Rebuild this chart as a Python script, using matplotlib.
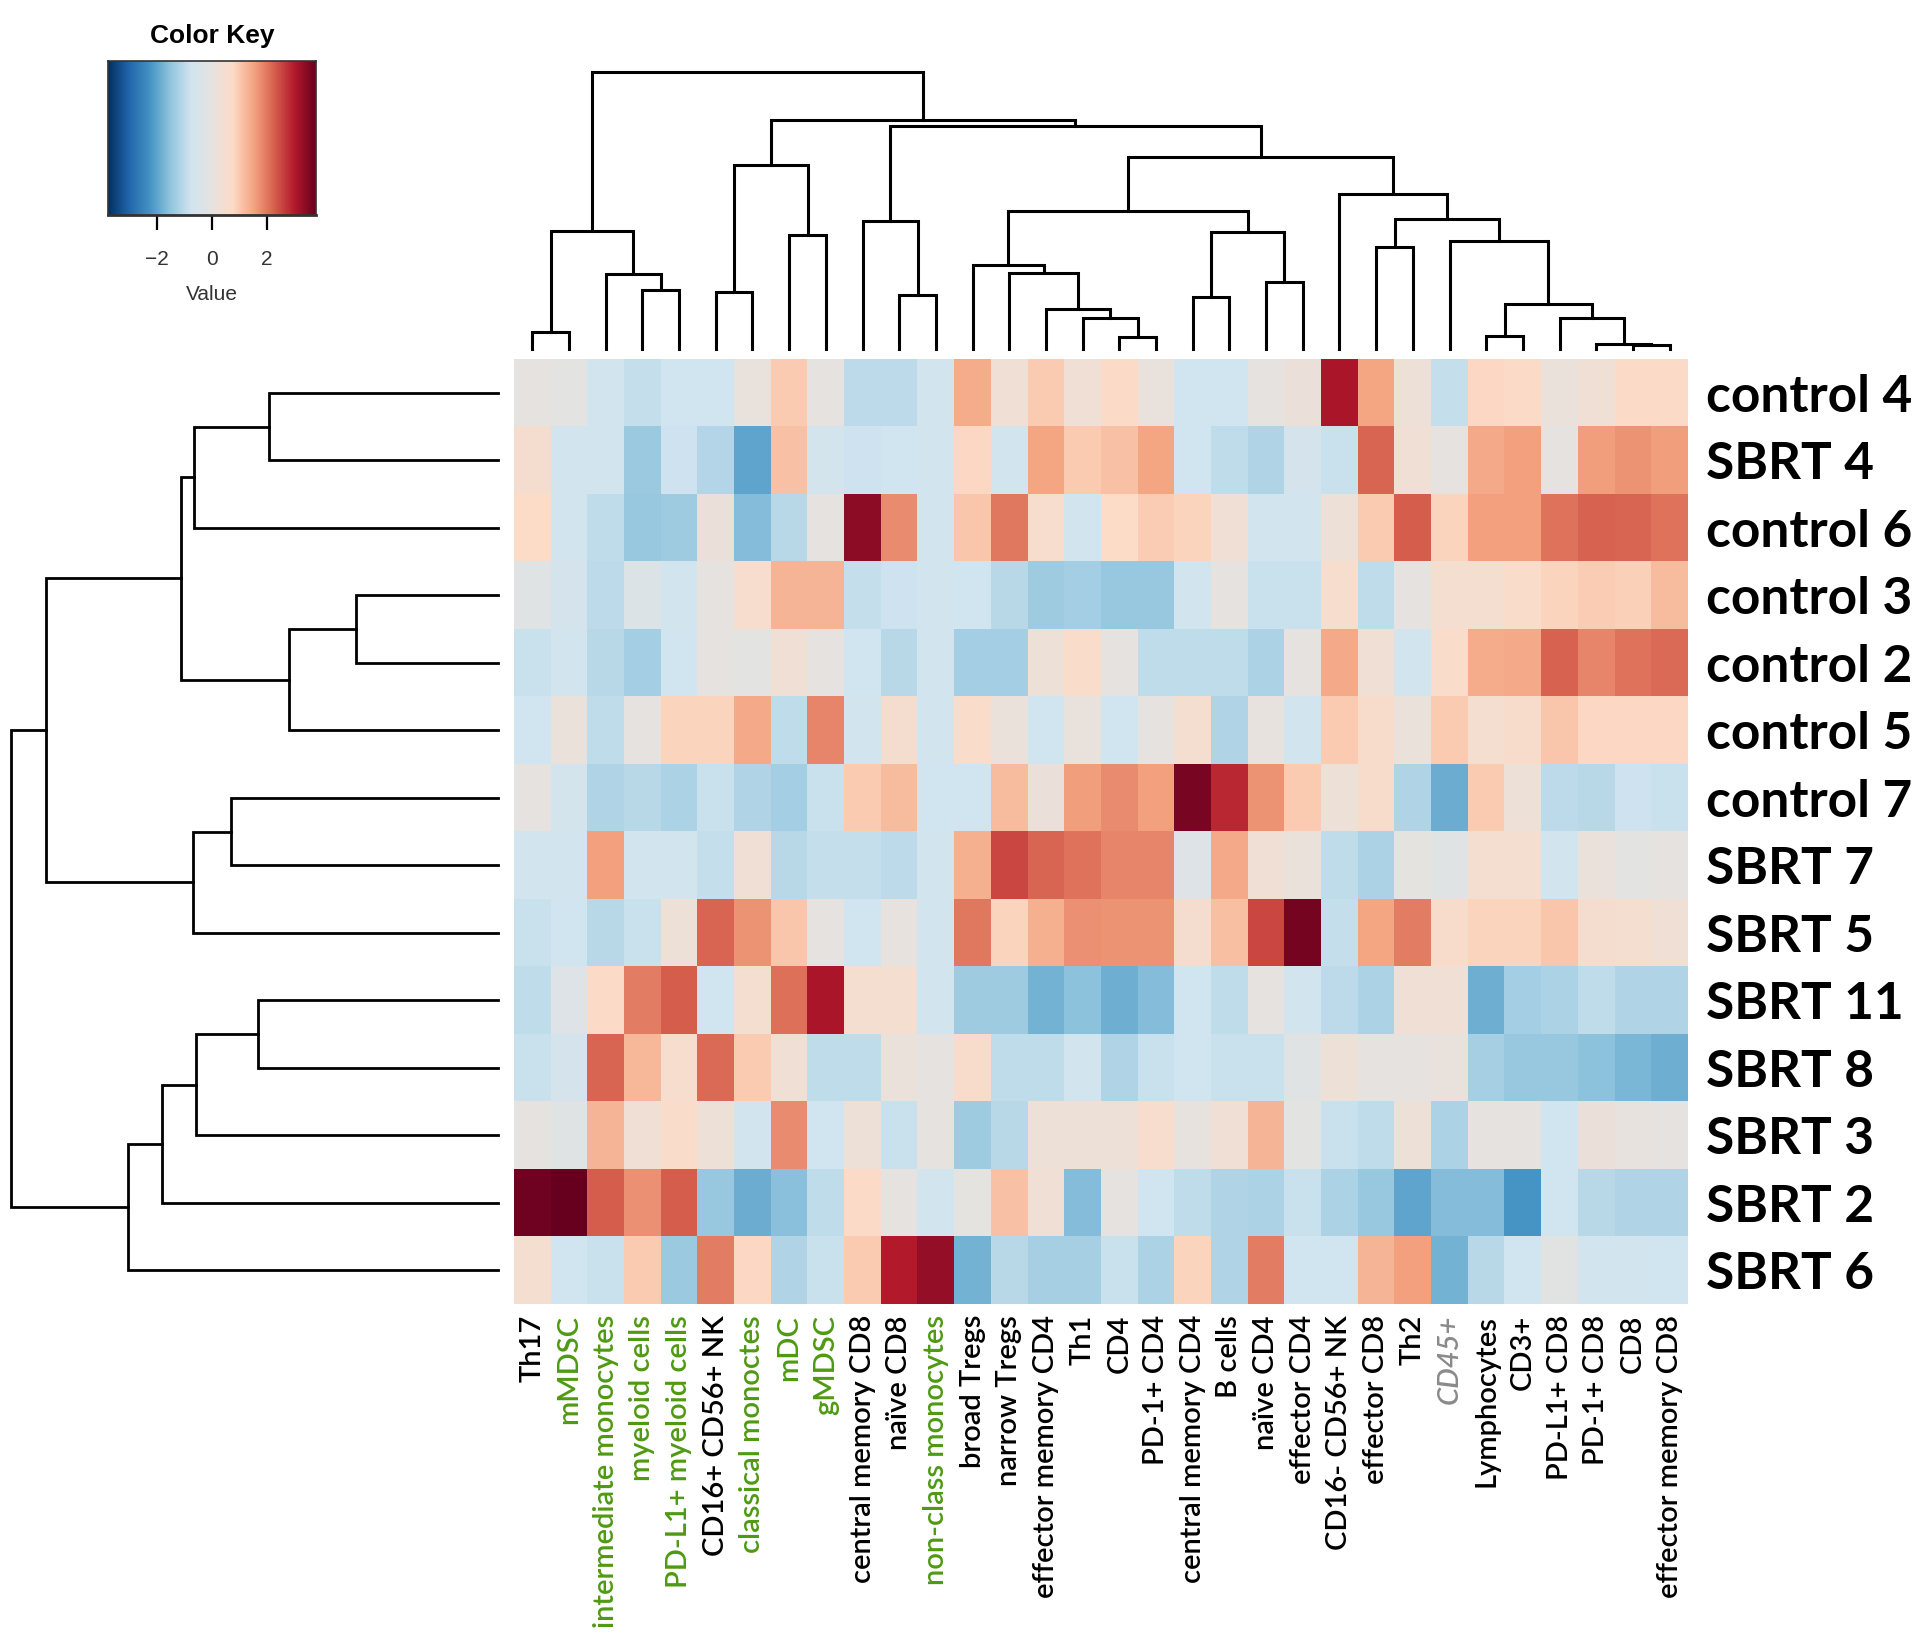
import numpy as np
import matplotlib.pyplot as plt
from matplotlib.colors import LinearSegmentedColormap

# ---- data (rows top to bottom, columns left to right, as clustered) ----
samples = ["control 4", "SBRT 4", "control 6", "control 3", "control 2", "control 5",
           "control 7", "SBRT 7", "SBRT 5", "SBRT 11", "SBRT 8", "SBRT 3", "SBRT 2", "SBRT 6"]

cell_types = ["Th17", "mMDSC", "intermediate monocytes", "myeloid cells", "PD-L1+ myeloid cells",
              "CD16+ CD56+ NK", "classical monoctes", "mDC", "gMDSC", "central memory CD8",
              "naïve CD8", "non-class monocytes", "broad Tregs", "narrow Tregs",
              "effector memory CD4", "Th1", "CD4", "PD-1+ CD4", "central memory CD4", "B cells",
              "naïve CD4", "effector CD4", "CD16- CD56+ NK", "effector CD8", "Th2", "CD45+",
              "Lymphocytes", "CD3+", "PD-L1+ CD8", "PD-1+ CD8", "CD8", "effector memory CD8"]

green_labels = ["mMDSC", "intermediate monocytes", "myeloid cells", "PD-L1+ myeloid cells",
                "classical monoctes", "mDC", "gMDSC", "non-class monocytes"]
grey_labels = ["CD45+"]

values = [
    [0, -0.1, -0.7, -0.9, -0.75, -0.75, 0.1, 1.0, 0, -1.0, -1.0, -0.7, 1.4, 0.3, 1.0, 0.35,
     0.7, 0.1, -0.75, -0.75, 0, 0.2, 3.1, 1.5, 0.25, -0.9, 0.8, 0.7, 0.15, 0.3, 0.7, 0.7],
    [0.5, -0.7, -0.7, -1.4, -0.8, -1.1, -2.0, 1.1, -0.65, -0.8, -0.75, -0.7, 0.8, -0.7, 1.5, 1.0,
     1.1, 1.5, -0.75, -0.95, -1.15, -0.6, -0.85, 2.2, 0.3, 0, 1.45, 1.55, 0, 1.6, 1.7, 1.6],
    [0.75, -0.7, -0.95, -1.45, -1.35, 0.2, -1.65, -1.05, 0, 3.4, 1.8, -0.7, 1.05, 2.0, 0.55, -0.7,
     0.75, 0.95, 0.85, 0.3, -0.7, -0.7, 0.25, 1.0, 2.3, 0.85, 1.55, 1.55, 2.05, 2.25, 2.2, 2.05],
    [-0.2, -0.6, -1.0, -0.35, -0.7, 0, 0.55, 1.3, 1.3, -0.9, -0.8, -0.7, -0.75, -1.05, -1.35, -1.3,
     -1.45, -1.45, -0.7, 0, -0.85, -0.85, 0.55, -0.95, 0, 0.45, 0.45, 0.65, 0.85, 0.95, 0.9, 1.2],
    [-0.85, -0.7, -1.05, -1.3, -0.75, 0, -0.1, 0.3, 0, -0.75, -1.05, -0.7, -1.3, -1.3, 0.25, 0.65,
     0, -0.95, -0.95, -0.95, -1.2, 0, 1.45, 0.3, -0.7, 0.65, 1.4, 1.45, 2.25, 1.85, 2.05, 2.15],
    [-0.75, 0.15, -0.95, 0, 0.85, 0.85, 1.45, -0.95, 1.85, -0.7, 0.5, -0.7, 0.65, 0.15, -0.75, 0.1,
     -0.75, 0, 0.45, -1.15, 0.05, -0.7, 1.0, 0.6, 0.15, 1.0, 0.45, 0.6, 1.05, 0.8, 0.8, 0.8],
    [0, -0.65, -1.15, -1.05, -1.2, -0.85, -1.15, -1.3, -0.85, 1.0, 1.2, -0.75, -0.75, 1.2, 0.2, 1.6,
     1.8, 1.55, 3.6, 2.85, 1.7, 1.0, 0.25, 0.6, -1.15, -1.9, 1.0, 0.25, -1.0, -1.05, -0.8, -0.85],
    [-0.7, -0.7, 1.55, -0.7, -0.7, -0.9, 0.3, -1.05, -0.9, -0.9, -1.0, -0.7, 1.35, 2.55, 2.2, 2.05,
     1.85, 1.85, -0.3, 1.45, 0.3, 0.15, -0.95, -1.2, -0.05, -0.2, 0.45, 0.45, -0.7, 0.15, -0.1, 0],
    [-0.85, -0.75, -1.05, -0.85, 0.25, 2.2, 1.7, 1.05, 0, -0.75, 0.05, -0.7, 2.0, 0.85, 1.35, 1.75,
     1.7, 1.7, 0.5, 1.15, 2.55, 3.65, -0.9, 1.5, 1.95, 0.6, 0.85, 0.85, 1.05, 0.5, 0.45, 0.35],
    [-0.95, -0.3, 0.7, 1.95, 2.3, -0.75, 0.45, 2.1, 3.1, 0.45, 0.45, -0.7, -1.35, -1.35, -1.8, -1.55,
     -1.85, -1.65, -0.75, -0.95, 0, -0.7, -1.0, -1.2, 0.35, 0.35, -1.85, -1.3, -1.2, -0.95, -1.15, -1.15],
    [-0.85, -0.6, 2.2, 1.25, 0.55, 2.15, 1.0, 0.3, -0.95, -0.95, 0.15, 0.0, 0.6, -0.95, -0.95, -0.7,
     -1.15, -0.85, -0.75, -0.85, -0.85, -0.2, 0.25, 0, 0, 0.1, -1.25, -1.45, -1.45, -1.55, -1.75, -1.85],
    [0, -0.2, 1.3, 0.3, 0.65, 0.25, -0.7, 1.8, -0.75, 0.25, -0.85, 0, -1.35, -1.05, 0.25, 0.25,
     0.25, 0.55, 0.05, 0.3, 1.3, -0.1, -0.85, -0.95, 0.25, -1.2, 0, 0, -0.75, 0.2, 0.05, 0],
    [3.7, 3.8, 2.3, 1.75, 2.3, -1.45, -1.9, -1.6, -0.95, 0.7, 0, -0.7, -0.05, 1.1, 0.3, -1.65,
     0, -0.75, -0.95, -1.15, -1.2, -0.85, -1.2, -1.45, -2.0, -1.65, -1.65, -2.25, -0.75, -1.05, -1.15, -1.15],
    [0.45, -0.75, -0.85, 1.0, -1.4, 1.95, 0.8, -1.15, -0.85, 1.0, 3.0, 3.35, -1.8, -1.05, -1.25, -1.25,
     -0.85, -1.2, 0.85, -1.15, 1.95, -0.75, -0.75, 1.3, 1.55, -1.8, -1.05, -0.75, -0.15, -0.7, -0.7, -0.75],
]

# dendrogram merges: (left cluster, right cluster, height); new cluster ids start at n
col_merges = [
    (30, 31, 12), (29, 32, 16), (16, 17, 35), (26, 27, 40), (0, 1, 52), (15, 34, 94),
    (28, 33, 94), (14, 37, 119), (35, 38, 134), (18, 19, 157), (10, 11, 163), (5, 6, 172),
    (3, 4, 178), (20, 21, 200), (2, 44, 224), (13, 39, 227), (12, 47, 253), (23, 24, 307),
    (25, 40, 325), (7, 8, 343), (41, 45, 350), (36, 46, 355), (9, 42, 385), (49, 50, 390),
    (48, 52, 413), (22, 55, 467), (43, 51, 554), (56, 57, 577), (54, 59, 671), (58, 60, 688),
    (53, 61, 832),
]
row_merges = [
    (3, 4, 425), (14, 5, 627), (0, 1, 687), (9, 10, 720), (6, 7, 798), (17, 11, 905),
    (16, 2, 910), (18, 8, 912), (20, 15, 950), (19, 12, 1005), (23, 13, 1108), (22, 21, 1352),
    (25, 24, 1458),
]

W, H = 1920, 1637
vmin, vmax = -3.8, 3.8

cmap = LinearSegmentedColormap.from_list("key", [
    "#053061", "#2166ac", "#4393c3", "#92c5de", "#d1e5f0", "#e6e3e0",
    "#fddbc7", "#f4a582", "#d6604d", "#b2182b", "#67001f"])


def fig_box(x0, y0, x1, y1):
    return [x0 / W, 1 - y1 / H, (x1 - x0) / W, (y1 - y0) / H]


def draw_dendro(ax, merges, n, top=True):
    pos = [float(i) for i in range(n)]
    hts = [0.0] * n
    for a, b, h in merges:
        xa, xb, ha, hb = pos[a], pos[b], hts[a], hts[b]
        if top:
            ax.plot([xa, xa, xb, xb], [ha, h, h, hb], color="black", lw=2.2,
                    solid_joinstyle="miter", clip_on=False)
        else:
            ax.plot([ha, h, h, hb], [xa, xa, xb, xb], color="black", lw=2.0,
                    solid_joinstyle="miter", clip_on=False)
        pos.append((xa + xb) / 2)
        hts.append(h)
    return max(hts)


fig = plt.figure(figsize=(W / 100, H / 100), dpi=100)

# heatmap
ax = fig.add_axes(fig_box(514, 359, 1688, 1304))
data = np.array(values)
ax.imshow(data, cmap=cmap, vmin=vmin, vmax=vmax, aspect="auto", interpolation="nearest")
for s in ax.spines.values():
    s.set_visible(False)
ax.set_xticks(range(len(cell_types)))
ax.set_xticklabels(cell_types, rotation=90, fontsize=21, family="Lato",
                   fontweight="semibold", va="top")
ax.tick_params(axis="x", length=0, pad=8)
for lab in ax.get_xticklabels():
    t = lab.get_text()
    if t in green_labels:
        lab.set_color("#4f9a12")
    elif t in grey_labels:
        lab.set_color("#8a8a8a")
        lab.set_style("italic")
ax.yaxis.tick_right()
ax.set_yticks(range(len(samples)))
ax.set_yticklabels(samples, fontsize=37, fontweight="bold", family="Lato")
ax.tick_params(axis="y", length=0, pad=13)
for lab in ax.get_yticklabels():
    lab.set_va("center_baseline")

# column dendrogram
axc = fig.add_axes(fig_box(514, 72, 1688, 349))
top_h = draw_dendro(axc, col_merges, len(cell_types), top=True)
axc.set_xlim(-0.5, len(cell_types) - 0.5)
axc.set_ylim(0, top_h)
axc.axis("off")

# row dendrogram
axr = fig.add_axes(fig_box(11, 359, 498, 1304))
root_h = draw_dendro(axr, row_merges, len(samples), top=False)
axr.set_xlim(root_h, 0)
axr.set_ylim(len(samples) - 0.5, -0.5)
axr.axis("off")

# color key
axk = fig.add_axes(fig_box(108, 61, 316, 215))
grad = np.linspace(vmin, vmax, 256).reshape(1, -1)
axk.imshow(grad, cmap=cmap, vmin=vmin, vmax=vmax, aspect="auto",
           extent=[vmin, vmax, 0, 1], interpolation="bilinear")
axk.set_xlim(vmin, vmax)
axk.set_yticks([])
axk.set_xticks([-2, 0, 2])
axk.tick_params(axis="x", length=11, width=1.6, pad=14, labelsize=15, labelcolor="#333333")
for s in axk.spines.values():
    s.set_color("#333333")
    s.set_linewidth(1.2)
axk.spines["bottom"].set_linewidth(2)
axk.set_title("Color Key", fontsize=19, fontweight="bold", family="Liberation Sans", pad=13)
axk.set_xlabel("Value", fontsize=15, color="#333333", family="Liberation Sans", labelpad=12)
for lab in axk.get_xticklabels():
    lab.set_family("Liberation Sans")

fig.savefig("out.png", dpi=100, facecolor="white")
plt.close()
